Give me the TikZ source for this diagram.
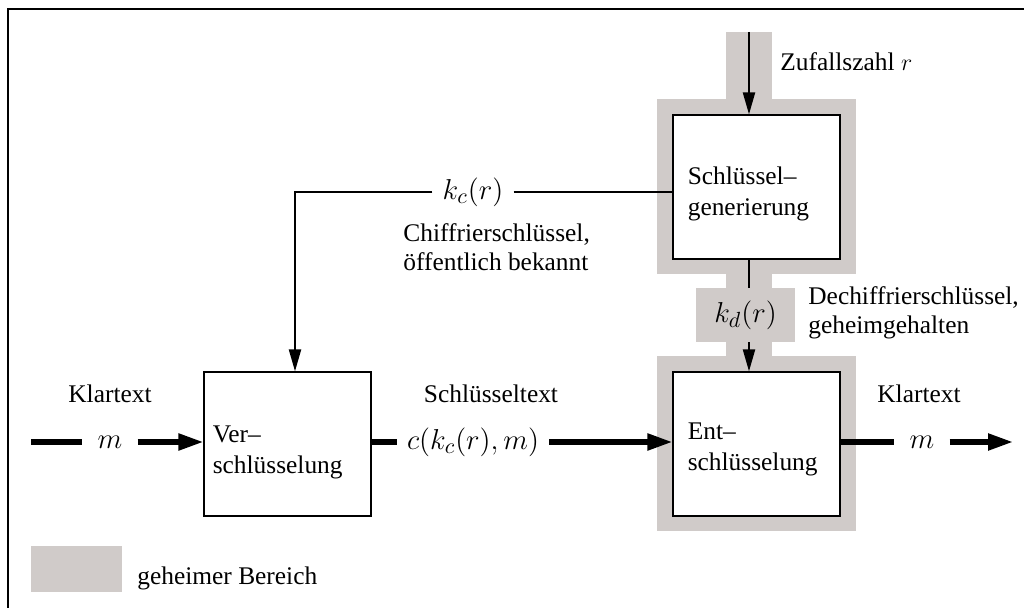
\documentclass[tikz,border=0pt]{standalone}
\usepackage[no-math]{fontspec}
\setmainfont{Liberation Serif}
\usetikzlibrary{arrows.meta,backgrounds,positioning}
\definecolor{secretgray}{RGB}{208,203,201}

\tikzset{
    block/.style={draw, line width=0.6pt, fill=white, minimum width=83.5pt, minimum height=72pt, inner sep=0pt},
    blocktext/.style={font=\fontsize{12.7}{15.5}\selectfont, align=left, inner sep=0pt, anchor=west},
    textlabel/.style={font=\fontsize{12.7}{14.5}\selectfont, align=left, inner sep=0pt},
    mathlabel/.style={font=\fontsize{15.3}{18}\selectfont, inner ysep=0pt},
    secret/.style={fill=secretgray},
    thinarrow/.style={line width=1.1pt, -{Triangle[length=11pt,width=6pt]}},
    thickline/.style={line width=2.6pt},
    thickarrow/.style={line width=2.6pt, -{Triangle[length=12.5pt,width=8pt]}},
}

\begin{document}
\begin{tikzpicture}[x=0.5pt, y=-0.5pt]
    \useasboundingbox (0,0) rectangle (1024,608);
    \draw [line width=0.9pt] (8,608) -- (8,9) -- (1024,9);

    % the three blocks
    \node [block] (gen) at (756.5,187) {};
    \node [block] (enc) at (287.5,444) {};
    \node [block] (dec) at (756.5,444) {};
    \node [blocktext] (gentext) at ([xshift=7.5pt, yshift=-3.5pt]gen.west) {Schlüssel--\\generierung};
    \node [blocktext] (enctext) at ([xshift=4.5pt, yshift=-4pt]enc.west) {Ver--\\schlüsselung};
    \node [blocktext] (dectext) at ([xshift=7.5pt, yshift=-2.5pt]dec.west) {Ent--\\schlüsselung};

    \coordinate (raxis) at (749,32);
    \node [secret, mathlabel, minimum width=49.5pt, minimum height=27pt] (kd) at (745.5,315) {$k_d(r)$};

    % secret area
    \begin{scope}[on background layer]
        \fill [secret] ([shift={(-15,-15)}]gen.north west) rectangle ([shift={(15,14)}]gen.south east);
        \fill [secret] ([shift={(-15,-15)}]dec.north west) rectangle ([shift={(15,14)}]dec.south east);
        \fill [secret] (726,32) rectangle (772,100);
        \fill [secret] (726,259) rectangle (772,290);
        \fill [secret] (726,340) rectangle (772,372);
    \end{scope}

    \draw [thinarrow] (raxis) -- (raxis |- gen.north);
    \node [textlabel, anchor=west] (rnd) at (780,62) {Zufallszahl $r$};
    \draw [line width=1.1pt] (raxis |- gen.south) -- (raxis |- kd.north);
    \draw [thinarrow] (raxis |- kd.south) -- (raxis |- dec.north);
    \node [textlabel, anchor=north west] (dkey) at (808,286) {Dechiffrierschlüssel,\\geheimgehalten};

    % public key
    \node [mathlabel, inner xsep=5pt] (kc) at (473,192) {$k_c(r)$};
    \coordinate (kccorner) at (295,192);
    \draw [line width=1.1pt] (kc.east) -- (kc.east -| gen.west);
    \draw [thinarrow] (kc.west) -- (kccorner) -- (kccorner |- enc.north);
    \node [textlabel, anchor=north west] (ckey) at (403,223) {Chiffrierschlüssel,\\öffentlich bekannt};

    % message path
    \coordinate (inL) at (31,442);
    \coordinate (outR) at (1013,442);
    \node [mathlabel, inner xsep=7.5pt] (mL) at (110,442) {$m$};
    \node [mathlabel, inner xsep=5pt] (ctext) at (473,442) {$c(k_c(r),m)$};
    \node [mathlabel, inner xsep=7.5pt] (mR) at (922,442) {$m$};
    \draw [thickline] (inL) -- (mL.west);
    \draw [thickarrow] (mL.east) -- (mL.east -| enc.west);
    \draw [thickline] (ctext.west -| enc.east) -- (ctext.west);
    \draw [thickarrow] (ctext.east) -- (ctext.east -| dec.west);
    \draw [thickline] (mR.west -| dec.east) -- (mR.west);
    \draw [thickarrow] (mR.east) -- (outR);
    \node [textlabel] (klarL) at (110,394) {Klartext};
    \node [textlabel] (ciph) at (491,394) {Schlüsseltext};
    \node [textlabel] (klarR) at (919,394) {Klartext};

    % legend
    \node [secret, minimum width=45.5pt, minimum height=23pt, inner sep=0pt] (legend) at (76.5,569) {};
    \node [textlabel, anchor=west] (legendtext) at (137,578) {geheimer Bereich};
\end{tikzpicture}
\end{document}
